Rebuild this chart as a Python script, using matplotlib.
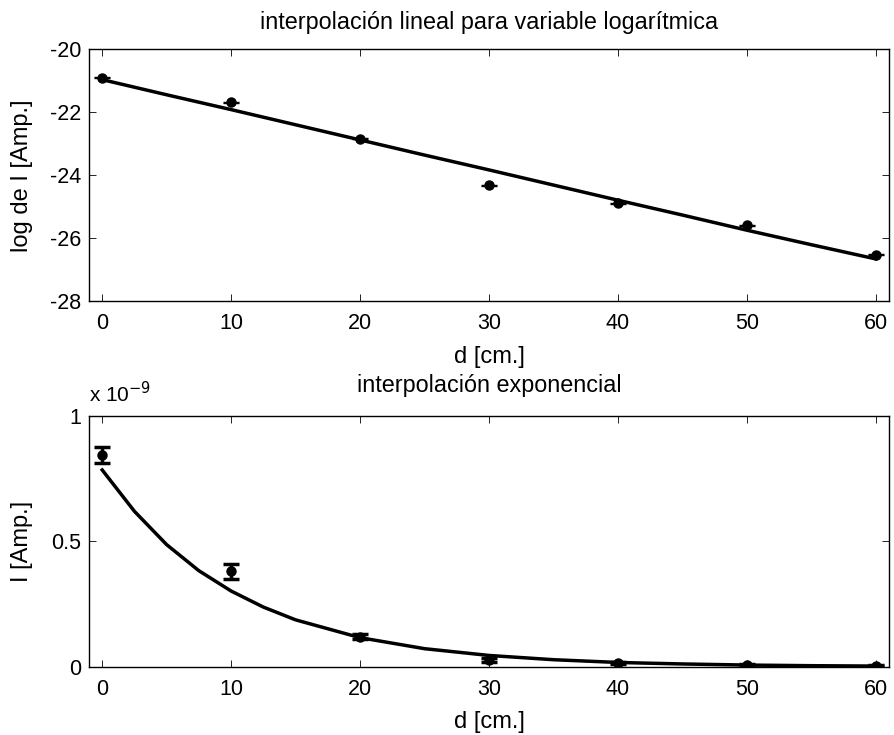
import numpy as np
import matplotlib.pyplot as plt

plt.rcParams['font.family'] = ['Liberation Sans', 'DejaVu Sans']
plt.rcParams['font.size'] = 14
plt.rcParams['axes.unicode_minus'] = False

# datos medidos
d = [0, 10, 20, 30, 40, 50, 60]
I = [0.845, 0.38, 0.12, 0.027, 0.015, 0.007, 0.003]          # x 1e-9 A
I_err = [0.033, 0.03, 0.01, 0.008, 0.004, 0.003, 0.002]      # x 1e-9 A
logI = [-20.91, -21.68, -22.85, -24.32, -24.88, -25.58, -26.52]
logI_err = [0.01, 0.015, 0.015, 0.015, 0.015, 0.015, 0.015]

# curvas de ajuste
d_lin = [0, 5, 10, 15, 20, 25, 30, 35, 40, 45, 50, 55, 60]
logI_fit = [-20.97, -21.45, -21.92, -22.40, -22.88, -23.36, -23.83,
            -24.31, -24.79, -25.26, -25.74, -26.20, -26.65]
d_exp = [0, 2.5, 5, 7.5, 10, 12.5, 15, 20, 25, 30, 35, 40, 45, 50, 55, 60]
I_fit = [0.785, 0.620, 0.487, 0.383, 0.302, 0.238, 0.187, 0.116, 0.072,
         0.045, 0.028, 0.017, 0.011, 0.0066, 0.0041, 0.0026]

fig = plt.figure(figsize=(8.95, 7.35), dpi=100)
ax1 = fig.add_axes([0.0998, 0.5898, 0.893, 0.3435])
ax2 = fig.add_axes([0.0998, 0.0929, 0.893, 0.341])

# %% interpolacion lineal
ax1.errorbar(d, logI, yerr=logI_err, fmt='o', color='k', ms=6.5,
             capsize=5.5, elinewidth=1, capthick=1)
ax1.plot(d_lin, logI_fit, color='k', lw=2.5)
ax1.set_xlim(-1, 61)
ax1.set_ylim(-28, -20)
ax1.set_yticks([-28, -26, -24, -22, -20])
ax1.set_xticks([0, 10, 20, 30, 40, 50, 60])
ax1.set_xlabel('d [cm.]', fontsize=17)
ax1.set_ylabel('log de I [Amp.]', fontsize=17)
ax1.set_title('interpolación lineal para variable logarítmica', pad=14.5)

# %% interpolacion exponencial
ax2.errorbar(d, I, yerr=I_err, fmt='o', color='k', ms=6.5,
             capsize=6, elinewidth=2.5, capthick=2.5)
ax2.plot(d_exp, I_fit, color='k', lw=2.5)
ax2.set_xlim(-1, 61)
ax2.set_ylim(0, 1)
ax2.set_yticks([0, 0.5, 1])
ax2.set_yticklabels(['0', '0.5', '1'])
ax2.set_xticks([0, 10, 20, 30, 40, 50, 60])
ax2.set_xlabel('d [cm.]', fontsize=17)
ax2.set_ylabel('I [Amp.]', fontsize=17)
ax2.set_title('interpolación exponencial', pad=17.5)
ax2.text(0, 1.056, r'x 10$^{-9}$', transform=ax2.transAxes,
         ha='left', va='baseline', fontsize=15)

for ax in (ax1, ax2):
    ax.tick_params(direction='in', length=5, width=0.6, top=True, right=True,
                   labelsize=15.5)
    ax.tick_params(axis='x', pad=8.5)
    ax.tick_params(axis='y', pad=6)
    ax.yaxis.set_label_coords(-0.070, 0.5)
    for s in ax.spines.values():
        s.set_linewidth(1)
ax1.xaxis.set_label_coords(0.5, -0.176)
ax2.xaxis.set_label_coords(0.5, -0.1775)

fig.savefig('out.png', dpi=100)
